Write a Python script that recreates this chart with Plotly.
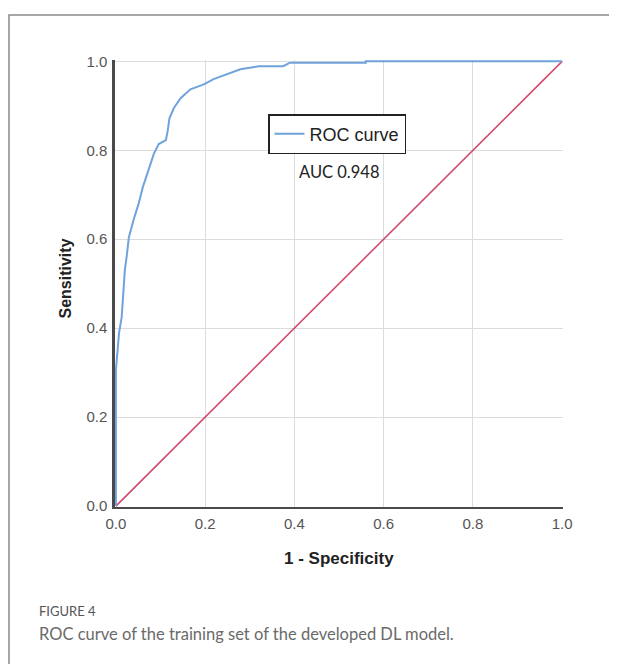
import plotly.graph_objects as go

# ROC curve points (1 - specificity, sensitivity)
fpr = [0.0, 0.0, 0.002, 0.007, 0.013, 0.018, 0.020, 0.025, 0.029, 0.040, 0.051,
       0.060, 0.067, 0.078, 0.085, 0.096, 0.112, 0.116, 0.120, 0.130, 0.145,
       0.167, 0.197, 0.219, 0.250, 0.279, 0.320, 0.375, 0.390, 0.560, 0.560, 1.0]
tpr = [0.0, 0.306, 0.329, 0.389, 0.425, 0.492, 0.530, 0.568, 0.604, 0.645, 0.680,
       0.716, 0.738, 0.770, 0.792, 0.814, 0.823, 0.843, 0.872, 0.895, 0.917,
       0.937, 0.948, 0.960, 0.972, 0.982, 0.989, 0.989, 0.997, 0.997, 1.0, 1.0]
ref_x = [0.0, 1.0]
ref_y = [0.0, 1.0]
tick_vals = [0.0, 0.2, 0.4, 0.6, 0.8, 1.0]
tick_text = ["0.0", "0.2", "0.4", "0.6", "0.8", "1.0"]
auc_text = "AUC 0.948"
x_title = "1 - Specificity"
y_title = "Sensitivity"
fig_label = "FIGURE 4"
caption = "ROC curve of the training set of the developed DL model."

# page offset of the plotly div (body margin) = 8px
OFF = 8
L, T = 115 - OFF, 60 - OFF
PW, PH = 448, 447


def px_x(px):
    return (px - 115) / PW


def px_y(py):
    return (507 - py) / PH


fig = go.Figure()
fig.add_trace(go.Scatter(x=ref_x, y=ref_y, mode="lines",
                         line=dict(color="#d24b6e", width=1.6),
                         showlegend=False, hoverinfo="skip"))
fig.add_trace(go.Scatter(x=fpr, y=tpr, mode="lines", name="ROC curve",
                         line=dict(color="#6fa3dc", width=2)))

axis_common = dict(
    tickvals=tick_vals, ticktext=tick_text,
    showgrid=True, gridcolor="#dcdcdc", gridwidth=1,
    zeroline=False, showline=True, linecolor="#4a4a4a",
    ticks="outside", ticklen=2, tickcolor="rgba(0,0,0,0)",
    tickfont=dict(family="Liberation Sans, Arial", size=15, color="#555555"),
    layer="below traces", fixedrange=True,
)
fig.update_xaxes(range=[-0.002, 1.002], linewidth=2, **axis_common)
fig.update_yaxes(range=[-0.002, 1.003], linewidth=2.5, **axis_common)

fig.update_layout(
    width=617 - OFF, height=664 - OFF, autosize=False,
    margin=dict(l=L, r=54, t=T, b=664 - OFF - T - PH),
    paper_bgcolor="white", plot_bgcolor="white",
    legend=dict(x=px_x(268), y=px_y(114), xanchor="left", yanchor="top",
                bordercolor="#222222", borderwidth=1.5, bgcolor="white",
                font=dict(family="Liberation Sans, Arial", size=18, color="#222222"),
                itemwidth=30, tracegroupgap=0),
    shapes=[dict(type="rect", xref="paper", yref="paper",
                 x0=px_x(9), x1=2.0, y0=-2.0, y1=px_y(15),
                 line=dict(color="#8a8a8a", width=1.5), layer="below")],
    annotations=[
        dict(text=auc_text, x=px_x(297), y=px_y(172), xref="paper", yref="paper",
             xanchor="left", yanchor="middle", showarrow=False,
             font=dict(family="Lato, Open Sans", size=16.5, color="#222222")),
        dict(text="<b>" + y_title + "</b>", x=px_x(64.5), y=px_y(279),
             xref="paper", yref="paper", textangle=-90, showarrow=False,
             xanchor="center", yanchor="middle",
             font=dict(family="Liberation Sans, Arial", size=16, color="#222222")),
        dict(text="<b>" + x_title + "</b>", x=0.5, y=px_y(558),
             xref="paper", yref="paper", showarrow=False,
             xanchor="center", yanchor="middle",
             font=dict(family="Liberation Sans, Arial", size=17, color="#222222")),
        dict(text=fig_label, x=px_x(37), y=px_y(611),
             xref="paper", yref="paper", showarrow=False,
             xanchor="left", yanchor="middle",
             font=dict(family="Lato", size=13, color="#555555")),
        dict(text=caption, x=px_x(37), y=px_y(634),
             xref="paper", yref="paper", showarrow=False,
             xanchor="left", yanchor="middle",
             font=dict(family="Lato", size=16.5, color="#6a6a6a")),
    ],
)

fig.write_html("out.html")
